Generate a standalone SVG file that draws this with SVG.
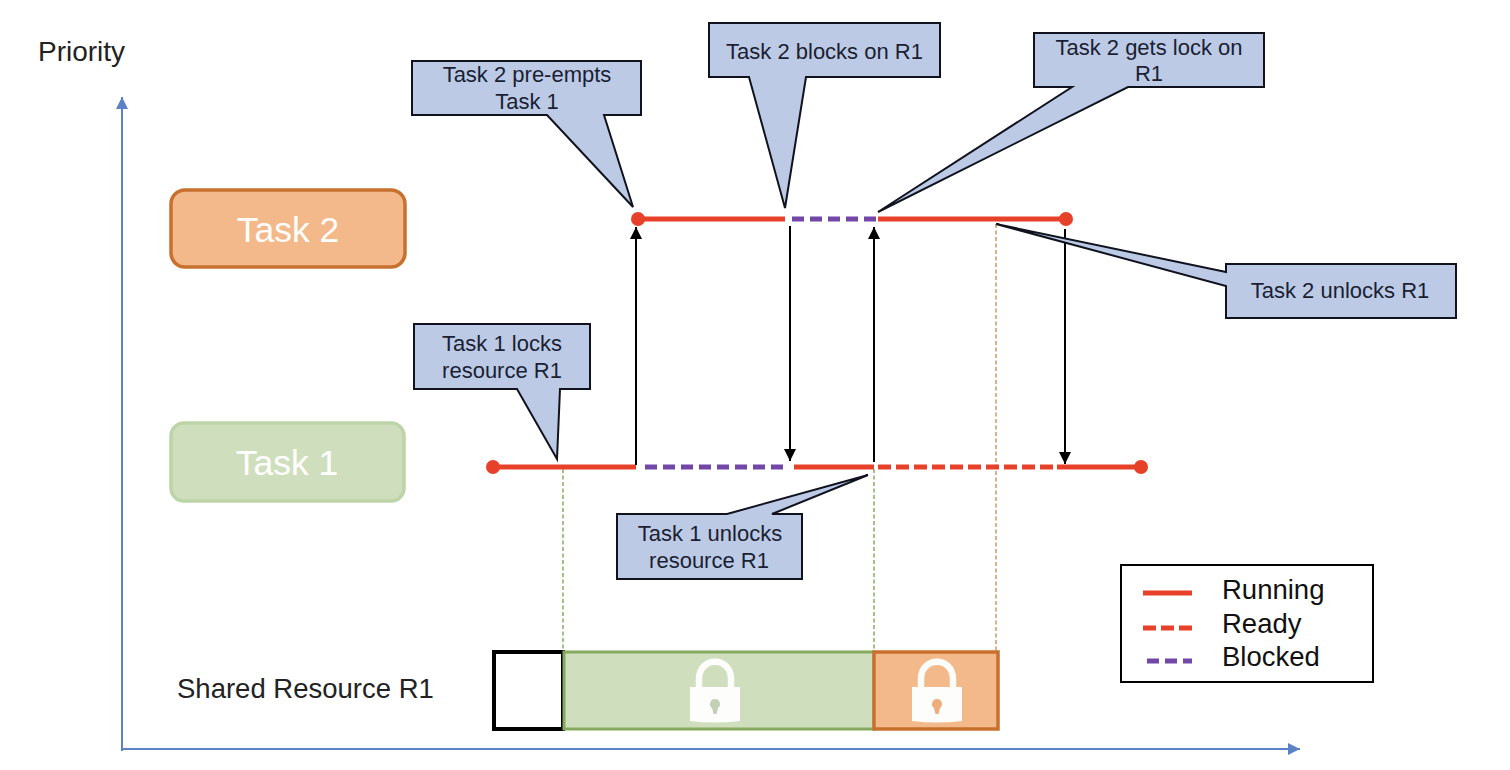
<svg xmlns="http://www.w3.org/2000/svg" width="1510" height="770" viewBox="0 0 1510 770">
<style>
text{font-family:"Liberation Sans",Arial,sans-serif;fill:#1a1f33}
.c{font-size:22px;text-anchor:middle}
.callout{fill:#bccae6;stroke:#10131e;stroke-width:2}
.run{stroke:#e8412a;stroke-width:5;fill:none}
.rdy{stroke:#e8412a;stroke-width:5;fill:none;stroke-dasharray:13 5}
.blk{stroke:#7347a8;stroke-width:5;fill:none;stroke-dasharray:12 6}
.dot{fill:#e8412a}
.ev{stroke:#000;stroke-width:2;fill:none}
.axis{stroke:#5b82c6;stroke-width:2;fill:none}
.task{font-size:35.5px;fill:#fff;text-anchor:middle}
.leg{font-size:27.500px;fill:#111}
.lock{fill:#fdfdfb}
</style>
<defs>
<marker id="ah" markerUnits="userSpaceOnUse" markerWidth="14" markerHeight="14" refX="12" refY="6" orient="auto"><path d="M0,0L12,6L0,12Z" fill="#000"/></marker>
<marker id="aa" markerUnits="userSpaceOnUse" markerWidth="14" markerHeight="14" refX="12" refY="6" orient="auto"><path d="M0,0L12,6L0,12Z" fill="#5b82c6"/></marker>
<g id="padlock"><path d="M-16,30V20C-16,-3 16,-3 16,20V30" fill="none" stroke="#fdfdfb" stroke-width="6.500"/><path class="lock" d="M-25,28H25V62Q0,65 -25,62Z"/></g>
</defs>
<rect width="1510" height="770" fill="#fff"/>
<text x="38" y="61" font-size="28" style="fill:#222">Priority</text>
<g id="axes">
<path class="axis" d="M122,751V97" marker-end="url(#aa)"/>
<path class="axis" d="M121,749H1300" marker-end="url(#aa)"/>
</g>
<g id="task2"><rect x="171" y="190" width="234" height="77" rx="14" fill="#f4b98a" stroke="#c8712f" stroke-width="3.5"/><text class="task" x="288" y="242">Task 2</text></g>
<g id="task1"><rect x="171" y="423" width="233" height="78" rx="13" fill="#cfdfbe" stroke="#bdd3a8" stroke-width="3.5"/><text class="task" x="287" y="475">Task 1</text></g>
<g id="connectors">
<g fill="none" stroke-width="1.5" stroke-dasharray="4 2.5">
<path d="M563,469V651M874,469V651" stroke="#86ae5e"/>
<path d="M996,224V651" stroke="#c99a66"/>
</g>
<path class="run" d="M638,219H785"/>
<path class="blk" d="M792,219H877" stroke-dasharray="11 6"/>
<path class="run" d="M878,219H1066"/>
<path class="run" d="M493,467H636"/>
<path class="blk" d="M645,467H785"/>
<path class="run" d="M794,467H874"/>
<path class="rdy" d="M878,467H1053"/>
<path class="run" d="M1057,467H1141"/>
<circle class="dot" cx="638" cy="219" r="7"/><circle class="dot" cx="1066" cy="219" r="7"/>
<circle class="dot" cx="493" cy="467" r="7"/><circle class="dot" cx="1141" cy="467" r="7"/>
<path class="ev" d="M636,465V227" marker-end="url(#ah)"/>
<path class="ev" d="M790,226V461" marker-end="url(#ah)"/>
<path class="ev" d="M874,462V227" marker-end="url(#ah)"/>
<path class="ev" d="M1065,229V464" marker-end="url(#ah)"/>
</g>
<g id="callout-preempts"><path class="callout" d="M412,61H641V115H604L633,207L547,115H412Z"/><text class="c" x="527" y="82">Task 2 pre-empts</text><text class="c" x="527" y="109">Task 1</text></g>
<g id="callout-blocks"><path class="callout" d="M709,23H940V77H806L785,208L749,77H709Z"/><text class="c" x="824.500" y="59">Task 2 blocks on R1</text></g>
<g id="callout-gets-lock"><path class="callout" d="M1034,33H1264V87H1128L878,212L1072,87H1034Z"/><text class="c" x="1149" y="55">Task 2 gets lock on</text><text class="c" x="1149" y="81">R1</text></g>
<g id="callout-unlocks-t2"><path class="callout" d="M1226,264H1456V318H1226V286L996,224L1226,272Z"/><text class="c" x="1340" y="298">Task 2 unlocks R1</text></g>
<g id="callout-locks"><path class="callout" d="M414,324H590V389H560L557,459L517,389H414Z"/><text class="c" x="502" y="351">Task 1 locks</text><text class="c" x="502" y="378">resource R1</text></g>
<g id="callout-unlocks-t1"><path class="callout" d="M617,514H727L868,475L772,514H802V579H617Z"/><text class="c" x="710" y="541">Task 1 unlocks</text><text class="c" x="709" y="568">resource R1</text></g>
<g id="resource">
<text x="177" y="698" font-size="27.500" style="fill:#222">Shared Resource R1</text>
<rect x="494" y="652" width="69" height="77" fill="#fff" stroke="#000" stroke-width="4"/>
<rect x="564" y="652" width="310" height="77" fill="#cfdfbe" stroke="#86a95f" stroke-width="3"/>
<rect x="874" y="652" width="124" height="77" fill="#f4b98a" stroke="#c8712f" stroke-width="3.5"/>
<use href="#padlock" x="715" y="659"/><path d="M715,699a5,5 0 0 1 3,9L716.500,714H713.500L712,708a5,5 0 0 1 3,-9Z" fill="#c3d0b6"/>
<use href="#padlock" x="937" y="659"/><path d="M937,699a5,5 0 0 1 3,9L938.500,714H935.500L934,708a5,5 0 0 1 3,-9Z" fill="#eeae7c"/>
</g>
<g id="legend">
<rect x="1121" y="565" width="252" height="117" fill="#fff" stroke="#000" stroke-width="2"/>
<path class="run" d="M1143,593H1192"/>
<path class="rdy" d="M1143,628H1192"/>
<path class="blk" d="M1147,661H1192" stroke-dasharray="12 6"/>
<text class="leg" x="1222" y="599">Running</text>
<text class="leg" x="1222" y="633">Ready</text>
<text class="leg" x="1222" y="666">Blocked</text>
</g>
</svg>
